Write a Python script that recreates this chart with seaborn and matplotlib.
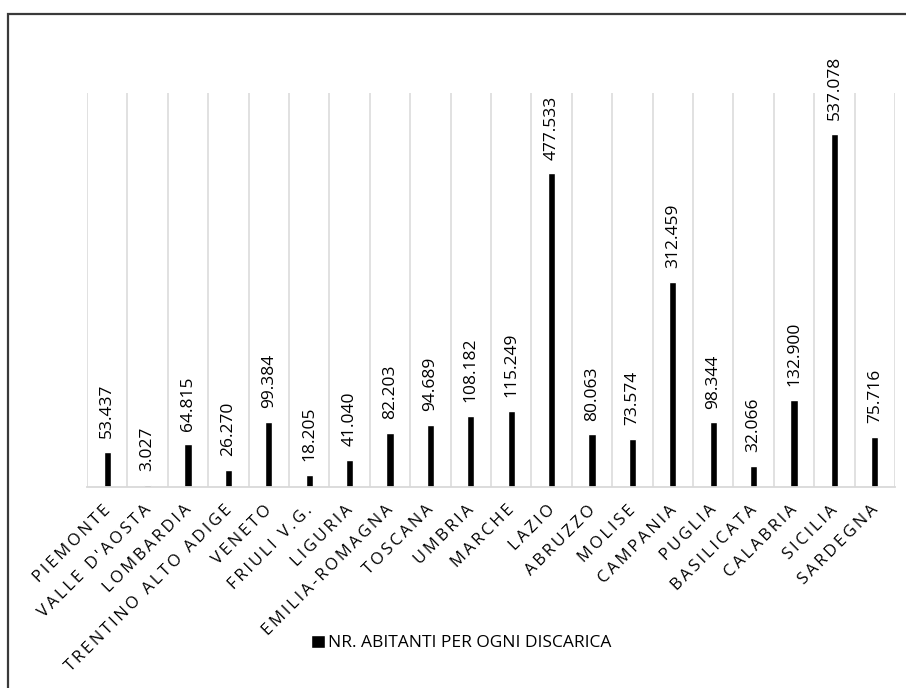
import matplotlib
matplotlib.use("Agg")
import matplotlib.pyplot as plt
import matplotlib.transforms as mtransforms
from matplotlib.patches import Rectangle
import seaborn as sns
import pandas as pd

# Residents per landfill, by Italian region
regioni = [
    "PIEMONTE", "VALLE D'AOSTA", "LOMBARDIA", "TRENTINO ALTO ADIGE", "VENETO",
    "FRIULI V.G.", "LIGURIA", "EMILIA-ROMAGNA", "TOSCANA", "UMBRIA",
    "MARCHE", "LAZIO", "ABRUZZO", "MOLISE", "CAMPANIA",
    "PUGLIA", "BASILICATA", "CALABRIA", "SICILIA", "SARDEGNA",
]
abitanti_per_discarica = [
    53437, 3027, 64815, 26270, 99384,
    18205, 41040, 82203, 94689, 108182,
    115249, 477533, 80063, 73574, 312459,
    98344, 32066, 132900, 537078, 75716,
]
serie = "NR. ABITANTI PER OGNI DISCARICA"

df = pd.DataFrame({"regione": regioni, "valore": abitanti_per_discarica})

sns.set_theme(style="white")
plt.rcParams["font.family"] = ["Open Sans", "DejaVu Sans"]

fig = plt.figure(figsize=(9.06, 6.88), dpi=100)
W, H = 906, 688
ax = fig.add_axes([87 / W, 1 - 487 / H, (895 - 87) / W, (487 - 93) / H])

sns.barplot(data=df, x="regione", y="valore", color="black", width=0.18,
            saturation=1, ax=ax, label=serie)

ax.set_xlim(-0.5, len(regioni) - 0.5)
ax.set_ylim(0, 600000)
ax.set_xlabel("")
ax.set_ylabel("")
ax.set_yticks([])

# vertical gridlines at category boundaries
ax.set_xticks([i - 0.5 for i in range(len(regioni) + 1)], minor=True)
ax.grid(True, which="minor", axis="x", color="#d9d9d9", linewidth=1.1)
ax.tick_params(axis="x", which="both", length=0)
for s in ["top", "right", "left"]:
    ax.spines[s].set_visible(False)
ax.spines["bottom"].set_color("#d9d9d9")
ax.spines["bottom"].set_linewidth(1.3)

# value labels above each bar
def fmt(v):
    return f"{v:,}".replace(",", ".")

for i, v in enumerate(abitanti_per_discarica):
    ax.annotate(fmt(v), xy=(i, v), xytext=(0, 10), textcoords="offset points",
                rotation=90, ha="center", va="bottom", fontsize=12.5,
                color="black", family=["Open Sans", "DejaVu Sans"])

# letter-spaced, rotated category labels
def spaced(s):
    return "\u2009".join(s)

ax.set_xticks(range(len(regioni)))
ax.set_xticklabels([spaced(r) for r in regioni], rotation=45, ha="right",
                   va="center", rotation_mode="anchor", fontsize=12,
                   color="black")
ax.tick_params(axis="x", which="major", pad=15)
offset = mtransforms.ScaledTranslation(1 / 100, 0, fig.dpi_scale_trans)
for lbl in ax.get_xticklabels():
    lbl.set_transform(lbl.get_transform() + offset)

# legend below the axis
leg = ax.legend(loc="center", bbox_to_anchor=(0.5093, (H - 643) / H),
                bbox_transform=fig.transFigure, frameon=False, fontsize=12.5,
                handlelength=0.75, handleheight=0.75, handletextpad=0.2)
for t in leg.get_texts():
    t.set_color("black")

# outer chart border
fig.patches.append(Rectangle((8 / W, -0.1), 1.2, 1 - 14 / H + 0.1,
                             transform=fig.transFigure, fill=False,
                             edgecolor="#3a3a3a", linewidth=1.6))

fig.savefig("out.png", dpi=100)
